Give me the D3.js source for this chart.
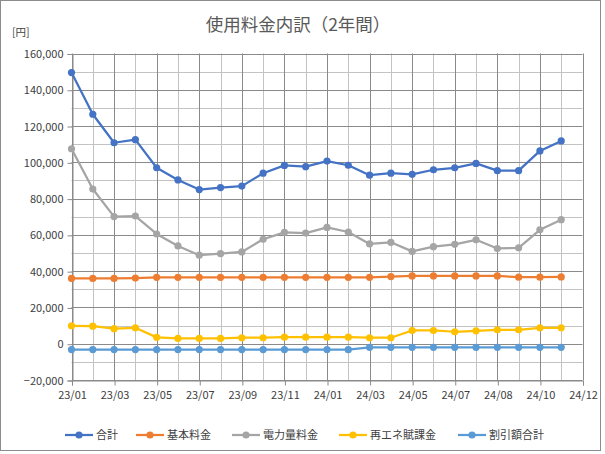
<!DOCTYPE html>
<html>
<head>
<meta charset="utf-8">
<script src="https://cdn.jsdelivr.net/npm/d3@7"></script>
<style>
html,body{margin:0;padding:0;background:#fff;}
svg{display:block;}
text{font-family:"Noto Sans CJK JP","Noto Sans",sans-serif;}
</style>
</head>
<body>
<svg id="c" width="605" height="454"></svg>
<script>
const xTickLabels = ["23/01","23/03","23/05","23/07","23/09","23/11","24/01","24/03","24/05","24/07","24/08","24/10","24/12"];
const seriesNames = ["合計","基本料金","電力量料金","再エネ賦課金","割引額合計"];
const seriesColors = ["#4472C4","#ED7D31","#A5A5A5","#FFC000","#5B9BD5"];
const total = [149500,126500,110800,112500,97000,90300,85000,86100,86900,94000,98300,97600,100700,98400,92900,94000,93400,95900,97000,99400,95400,95400,106300,111800];
const basic = [36000,36000,36000,36200,36600,36600,36600,36600,36600,36600,36600,36600,36600,36600,36600,37000,37400,37400,37400,37400,37400,36700,36700,36800];
const energy = [107500,85300,70100,70400,60500,53900,48800,49700,50600,57600,61400,61000,64100,61600,55000,55900,50900,53500,54800,57300,52500,52900,62800,68400];
const renew = [9900,9700,8300,8800,3500,2900,2900,2900,3300,3300,3600,3600,3600,3600,3300,3300,7300,7300,6600,7100,7700,7700,8800,8800];
const discount = [-3200,-3200,-3200,-3200,-3200,-3200,-3200,-3200,-3200,-3200,-3200,-3200,-3200,-3300,-2000,-2000,-2000,-2000,-2000,-2000,-2000,-2000,-2000,-2000];
const seriesData = [total, basic, energy, renew, discount];
const yMin = -20000, yMax = 160000, yMajor = 20000, yMinor = 10000;

const svg = d3.select("#c");
const L = 71.5, R = 582.5, T = 53.5, B = 380;
const x = d3.scaleLinear().domain([0, 24]).range([L, R]);
const y = d3.scaleLinear().domain([yMin, yMax]).range([B, T]);

// outer border
svg.append("rect").attr("x",0.5).attr("y",0.5).attr("width",600).attr("height",450)
  .attr("fill","#fff").attr("stroke","#8c8c8c").attr("stroke-width",1);

// minor gridlines
const g = svg.append("g");
const minorY = d3.range(yMin, yMax + 1, yMinor).filter(v => v % yMajor !== 0);
g.selectAll(".my").data(minorY).join("line")
  .attr("x1",L).attr("x2",R).attr("y1",d=>Math.round(y(d))+0.5).attr("y2",d=>Math.round(y(d))+0.5)
  .attr("stroke","#c3c3c3").attr("stroke-width",1);
const minorX = d3.range(1, 24, 2);
g.selectAll(".mx").data(minorX).join("line")
  .attr("x1",d=>Math.round(x(d))+0.5).attr("x2",d=>Math.round(x(d))+0.5).attr("y1",T).attr("y2",B)
  .attr("stroke","#c3c3c3").attr("stroke-width",1);
// major gridlines
const majorY = d3.range(yMin, yMax + 1, yMajor);
g.selectAll(".My").data(majorY).join("line")
  .attr("x1",L).attr("x2",R).attr("y1",d=>Math.round(y(d))+0.5).attr("y2",d=>Math.round(y(d))+0.5)
  .attr("stroke","#8a8a8a").attr("stroke-width",1);
const majorX = d3.range(0, 25, 2);
g.selectAll(".Mx").data(majorX).join("line")
  .attr("x1",d=>Math.round(x(d))+0.5).attr("x2",d=>Math.round(x(d))+0.5).attr("y1",T).attr("y2",B)
  .attr("stroke","#8a8a8a").attr("stroke-width",1);

// y axis
const yAxis = d3.axisLeft(y).tickValues(majorY).tickSize(5).tickPadding(4)
  .tickFormat(d => d3.format(",")(d));
const ya = svg.append("g").attr("transform",`translate(${Math.round(L)+0.5},0.5)`).call(yAxis);
ya.select(".domain").attr("stroke","#8a8a8a");
ya.selectAll(".tick line").attr("stroke","#8a8a8a");
ya.selectAll(".tick text").attr("fill","#404040").attr("font-size","11px");

// x axis
const xAxis = d3.axisBottom(x).tickValues(majorX).tickSize(5).tickPadding(6)
  .tickFormat((d,i) => xTickLabels[i]);
const xa = svg.append("g").attr("transform",`translate(0.5,${Math.round(B)+0.5})`).call(xAxis);
xa.select(".domain").attr("stroke","#8a8a8a");
xa.selectAll(".tick line").attr("stroke","#8a8a8a");
xa.selectAll(".tick text").attr("fill","#404040").attr("font-size","11px");

// series
const line = d3.line().x((d,i)=>x(i)).y(d=>y(d));
seriesData.forEach((arr, si) => {
  const sg = svg.append("g");
  sg.append("path").datum(arr).attr("d", line).attr("fill","none")
    .attr("stroke", seriesColors[si]).attr("stroke-width",2.25).attr("stroke-linejoin","round");
  sg.selectAll("circle").data(arr).join("circle")
    .attr("cx",(d,i)=>x(i)).attr("cy",d=>y(d)).attr("r",3.6).attr("fill",seriesColors[si]);
});

// title
svg.append("text").attr("x",298).attr("y",31).attr("text-anchor","middle")
  .attr("font-size","17.5px").attr("fill","#595959").text("使用料金内訳（2年間）");
svg.append("text").attr("x",12).attr("y",36).attr("font-size","10.5px").attr("fill","#404040").text("[円]");

// legend
const legX = [65, 136, 232, 339, 458];
const lg = svg.append("g");
seriesNames.forEach((n, i) => {
  const ly = 435;
  lg.append("line").attr("x1",legX[i]).attr("x2",legX[i]+28).attr("y1",ly).attr("y2",ly)
    .attr("stroke",seriesColors[i]).attr("stroke-width",2.25);
  lg.append("circle").attr("cx",legX[i]+14).attr("cy",ly).attr("r",3.6).attr("fill",seriesColors[i]);
  lg.append("text").attr("x",legX[i]+31).attr("y",ly+4).attr("font-size","11px").attr("fill","#404040").text(n);
});
</script>
</body>
</html>
